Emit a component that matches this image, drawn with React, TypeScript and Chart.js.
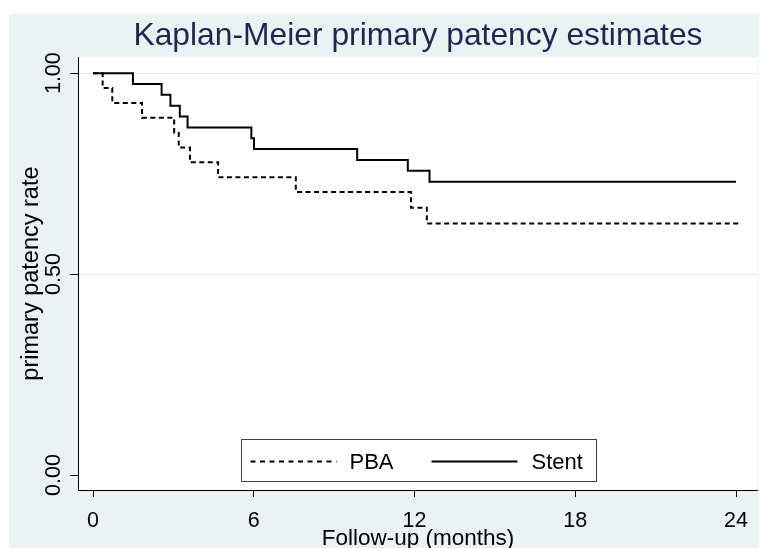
import React, { useEffect, useRef } from 'react';
import { Chart, registerables } from 'chart.js';

Chart.register(...registerables);

// ---- data ----
const pbaMonths = [0, 0.36, 0.72, 1.83, 3.03, 3.2, 3.62, 4.67, 7.57, 11.87, 12.46, 24.17];
const pbaRate = [1, 0.963, 0.926, 0.889, 0.852, 0.815, 0.778, 0.741, 0.704, 0.665, 0.626, 0.626];
const stentMonths = [0, 1.49, 2.56, 2.89, 3.24, 3.53, 5.91, 6.01, 9.86, 11.75, 12.56, 24];
const stentRate = [1, 0.973, 0.946, 0.919, 0.892, 0.865, 0.838, 0.811, 0.784, 0.757, 0.73, 0.73];
const xTicks = [0, 6, 12, 18, 24];
const yTicks = [0, 0.5, 1];
const seriesLabels = ['PBA', 'Stent'];
const titleText = 'Kaplan-Meier primary patency estimates';
const xTitle = 'Follow-up (months)';
const yTitle = 'primary patency rate';

const FONT = '"Liberation Sans", Arial, sans-serif';

const backgroundPlugin = {
  id: 'kmBackground',
  beforeDraw(chart: any) {
    const { ctx, chartArea, width, height } = chart;
    ctx.save();
    ctx.fillStyle = '#ffffff';
    ctx.fillRect(0, 0, width, height);
    ctx.fillStyle = '#eaf2f3';
    ctx.fillRect(9, 14, width - 9, height - 14);
    ctx.fillStyle = '#ffffff';
    ctx.fillRect(chartArea.left, chartArea.top, chartArea.right - chartArea.left, chartArea.bottom - chartArea.top);
    ctx.restore();
  },
};

const legendPlugin = {
  id: 'kmLegend',
  afterDraw(chart: any) {
    const { ctx, chartArea } = chart;
    const w = 355;
    const h = 42;
    const cx = (chartArea.left + chartArea.right) / 2 + 1;
    const left = Math.round(cx - w / 2) + 0.5;
    const top = Math.round(chartArea.bottom - 9 - h) + 0.5;
    ctx.save();
    ctx.fillStyle = '#ffffff';
    ctx.fillRect(left, top, w, h);
    ctx.strokeStyle = '#404040';
    ctx.lineWidth = 1;
    ctx.strokeRect(left, top, w, h);
    const ly = top + 22;
    const sampleX = [9, 190];
    const textX = [108, 290];
    chart.data.datasets.forEach((ds: any, i: number) => {
      ctx.beginPath();
      ctx.setLineDash(ds.borderDash ? [5, 4.5] : []);
      ctx.lineWidth = ds.borderWidth;
      ctx.strokeStyle = ds.borderColor;
      ctx.moveTo(left + sampleX[i], ly);
      ctx.lineTo(left + sampleX[i] + 86, ly);
      ctx.stroke();
      ctx.setLineDash([]);
      ctx.fillStyle = '#000000';
      ctx.font = `22px ${FONT}`;
      ctx.textBaseline = 'middle';
      ctx.textAlign = 'left';
      ctx.fillText(ds.label, left + textX[i], ly + 1);
    });
    ctx.restore();
  },
};

export default function App() {
  const canvasRef = useRef<HTMLCanvasElement | null>(null);

  useEffect(() => {
    const canvas = canvasRef.current;
    if (!canvas) return;
    const chart = new Chart(canvas, {
      type: 'line',
      data: {
        datasets: [
          {
            label: seriesLabels[0],
            data: pbaMonths.map((m, i) => ({ x: m, y: pbaRate[i] })),
            borderColor: '#000000',
            borderWidth: 2,
            borderDash: [5, 3.5],
            stepped: 'before',
            pointRadius: 0,
            fill: false,
            tension: 0,
          },
          {
            label: seriesLabels[1],
            data: stentMonths.map((m, i) => ({ x: m, y: stentRate[i] })),
            borderColor: '#000000',
            borderWidth: 2,
            stepped: 'before',
            pointRadius: 0,
            fill: false,
            tension: 0,
          },
        ],
      },
      options: {
        animation: false,
        responsive: false,
        devicePixelRatio: 1,
        layout: { padding: 0 },
        plugins: {
          legend: { display: false },
          tooltip: { enabled: false },
          title: {
            display: true,
            text: titleText,
            fullSize: false,
            color: '#1a2a4f',
            font: { family: FONT, size: 31.8, weight: 'normal', lineHeight: 1.2 },
            padding: { top: 17, bottom: 2 },
          },
        },
        scales: {
          x: {
            type: 'linear',
            min: -0.56,
            max: 24.82,
            afterBuildTicks: (s: any) => {
              s.ticks = xTicks.map((v) => ({ value: v }));
            },
            afterFit: (s: any) => {
              s.height = 58;
            },
            grid: {
              drawOnChartArea: false,
              drawTicks: true,
              tickLength: 7,
              tickColor: '#000000',
              tickWidth: 1,
            },
            border: { display: true, color: '#000000', width: 1 },
            ticks: {
              color: '#000000',
              font: { family: FONT, size: 21.5 },
              padding: 11,
              maxRotation: 0,
              minRotation: 0,
              autoSkip: false,
              callback: (v: any) => String(v),
            },
            title: {
              display: true,
              text: xTitle,
              color: '#000000',
              font: { family: FONT, size: 22.5, lineHeight: 1.2 },
              padding: { top: 0, bottom: -4 },
            },
          },
          y: {
            type: 'linear',
            min: -0.0373,
            max: 1.0398,
            afterBuildTicks: (s: any) => {
              s.ticks = yTicks.map((v) => ({ value: v }));
            },
            afterFit: (s: any) => {
              s.width = 78;
            },
            grid: {
              color: (ctx: any) => (ctx.tick && ctx.tick.value === 0 ? 'rgba(0,0,0,0)' : '#e3ebee'),
              lineWidth: 1,
              drawTicks: true,
              tickLength: 8,
              tickColor: '#000000',
              tickWidth: 1,
            },
            border: { display: true, color: '#000000', width: 1 },
            ticks: {
              color: '#000000',
              font: { family: FONT, size: 21.5 },
              minRotation: 90,
              maxRotation: 90,
              crossAlign: 'center',
              padding: -5.5,
              autoSkip: false,
              callback: (v: any) => Number(v).toFixed(2),
            },
            title: {
              display: true,
              text: yTitle,
              color: '#000000',
              font: { family: FONT, size: 23.5, lineHeight: 1.2 },
              padding: { top: 17.5, bottom: 0 },
            },
          },
        },
      } as any,
      plugins: [backgroundPlugin, legendPlugin],
    });
    return () => chart.destroy();
  }, []);

  return (
    <div style={{ position: 'fixed', left: 0, top: 0, width: 759, height: 548, overflow: 'hidden' }}>
      <canvas ref={canvasRef} width={759} height={548} style={{ display: 'block', width: 759, height: 548 }} />
    </div>
  );
}
